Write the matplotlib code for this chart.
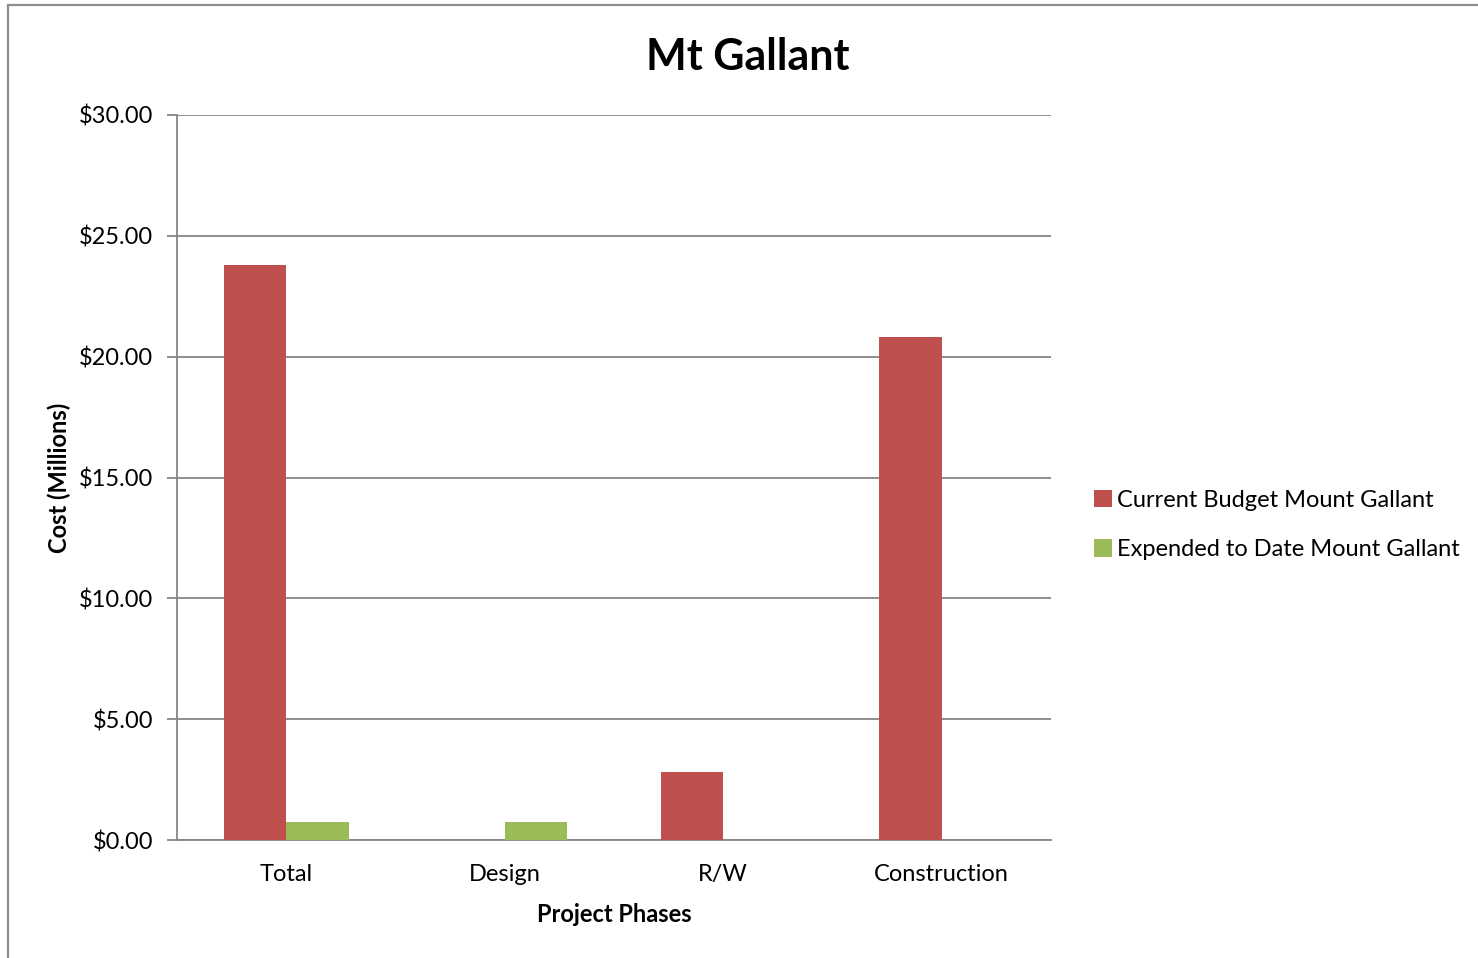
import matplotlib
matplotlib.use("Agg")
import matplotlib.pyplot as plt
from matplotlib.patches import Rectangle, Patch
from matplotlib.ticker import FuncFormatter, MultipleLocator
import numpy as np

plt.rcParams['font.family'] = ['Lato', 'DejaVu Sans']

# Cost per project phase, in millions of dollars
phases = ["Total", "Design", "R/W", "Construction"]
current_budget = [23.79, 0.0, 2.80, 20.83]
expended_to_date = [0.74, 0.73, 0.0, 0.0]
series_names = ["Current Budget Mount Gallant", "Expended to Date Mount Gallant"]

RED = "#C0504D"
GREEN = "#9BBB59"
GRID = "#868686"

fig = plt.figure(figsize=(14.78, 9.58), dpi=100)
fig.patch.set_facecolor("white")

# Chart-area border (extends past the right and bottom edge)
fig.patches.append(Rectangle((7.5 / 1478, -0.05), 1.2, 1 - 5.5 / 958 + 0.05,
                             transform=fig.transFigure, fill=False,
                             edgecolor="#8c8c8c", linewidth=1.6, zorder=0))

ax = fig.add_axes([177 / 1478, 118 / 958, (1051 - 177) / 1478, (840 - 115) / 958])

x = np.arange(len(phases))
width = 0.2857
ax.bar(x - width / 2, current_budget, width, color=RED, label=series_names[0], zorder=3)
ax.bar(x + width / 2, expended_to_date, width, color=GREEN, label=series_names[1], zorder=3)

ax.set_xlim(-0.5, len(phases) - 0.5)
ax.set_ylim(0, 30)
ax.yaxis.set_major_locator(MultipleLocator(5))
ax.yaxis.set_major_formatter(FuncFormatter(lambda v, p: f"${v:,.2f}"))
ax.grid(axis="y", color=GRID, linewidth=1.3, zorder=0)
ax.set_axisbelow(True)

for s in ["top", "right"]:
    ax.spines[s].set_visible(False)
ax.spines["left"].set_color(GRID)
ax.spines["left"].set_linewidth(1.3)
ax.spines["bottom"].set_color(GRID)
ax.spines["bottom"].set_linewidth(1.3)

ax.set_xticks(x)
ax.set_xticklabels(phases)
ax.tick_params(axis="x", length=0, pad=17, labelsize=17)
ax.tick_params(axis="y", length=7, width=1.3, color=GRID, pad=10, labelsize=17)

ax.set_xlabel("Project Phases", fontsize=17, fontweight="bold", labelpad=13)
ax.set_ylabel("Cost (Millions)", fontsize=17, fontweight="bold", labelpad=6)

fig.text(748 / 1478, 1 - 57 / 958, "Mt Gallant", ha="center", va="center",
         fontsize=31, fontweight="bold")

handles = [Patch(facecolor=RED), Patch(facecolor=GREEN)]
fig.legend(handles, series_names, loc="center left",
           bbox_to_anchor=(1085 / 1478, 1 - 525 / 958), frameon=False,
           fontsize=17, handlelength=0.75, handleheight=0.75, handletextpad=0.2,
           labelspacing=1.2, borderaxespad=0)

fig.savefig("out.png", dpi=100, facecolor="white")
